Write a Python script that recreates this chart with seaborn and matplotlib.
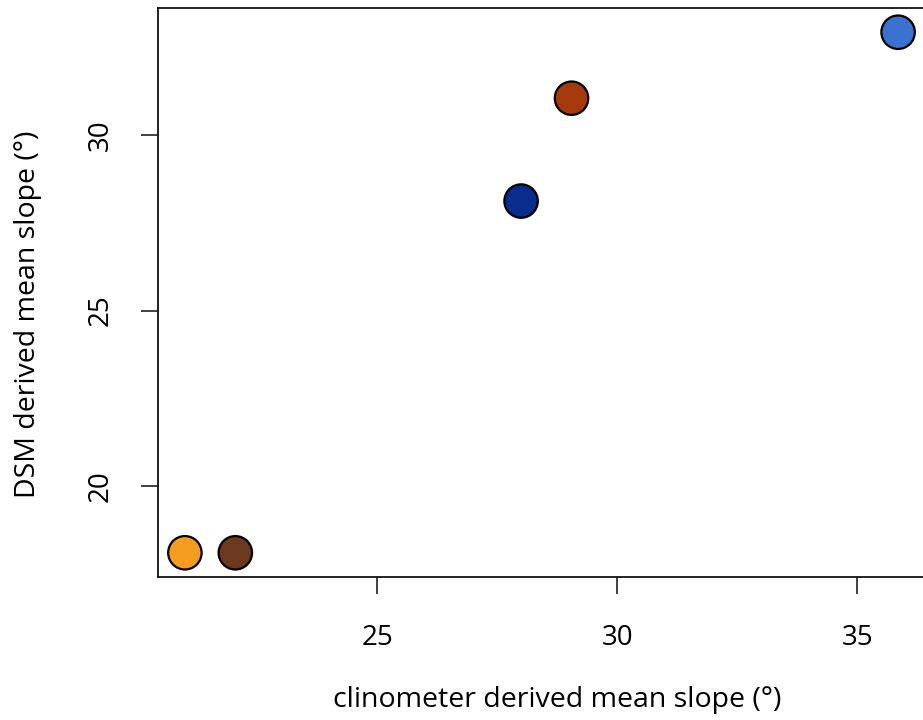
import matplotlib
matplotlib.use("Agg")
import matplotlib.pyplot as plt
import seaborn as sns
import pandas as pd

# data
sites = ["A", "B", "C", "D", "E"]
clino_slope = [21.0, 22.05, 28.0, 29.05, 35.85]
dsm_slope = [18.1, 18.1, 28.12, 31.05, 32.93]
colors = ["#F39C1E", "#6B3A1E", "#0A2C8C", "#A53A0D", "#3B72D0"]

sns.set_style("ticks")
plt.rcParams['font.family'] = ['Open Sans', 'DejaVu Sans']

df = pd.DataFrame({"site": sites, "x": clino_slope, "y": dsm_slope})

fig = plt.figure(figsize=(9.23, 7.2), dpi=100)
ax = fig.add_axes([158 / 923, 143 / 720, (925 - 158) / 923, (577 - 8) / 720])

sns.scatterplot(data=df, x="x", y="y", hue="site", palette=colors, s=580,
                edgecolor="black", linewidth=1.6, legend=False, ax=ax, zorder=3)

ax.set_xlim(20.44, 36.41)
ax.set_ylim(17.41, 33.62)
ax.set_xticks([25, 30, 35])
ax.set_yticks([20, 25, 30])
ax.tick_params(labelsize=20, length=12, width=1.3, color="#333333",
               labelcolor="black", pad=22)
ax.tick_params(axis="y", pad=19)
for lab in ax.get_yticklabels():
    lab.set_rotation(90)
    lab.set_va("center")
for side in ["top", "bottom", "left", "right"]:
    ax.spines[side].set_linewidth(1.3)
    ax.spines[side].set_color("#111111")

ax.set_xlabel("clinometer derived mean slope (°)", fontsize=20.5,
              color="black", va="center")
ax.set_ylabel("DSM derived mean slope (°)", fontsize=20.5,
              color="black", va="center")
ax.xaxis.set_label_coords(0.52, -0.217)
ax.yaxis.set_label_coords(-0.169, 0.462)

fig.savefig("out.png", dpi=100)
